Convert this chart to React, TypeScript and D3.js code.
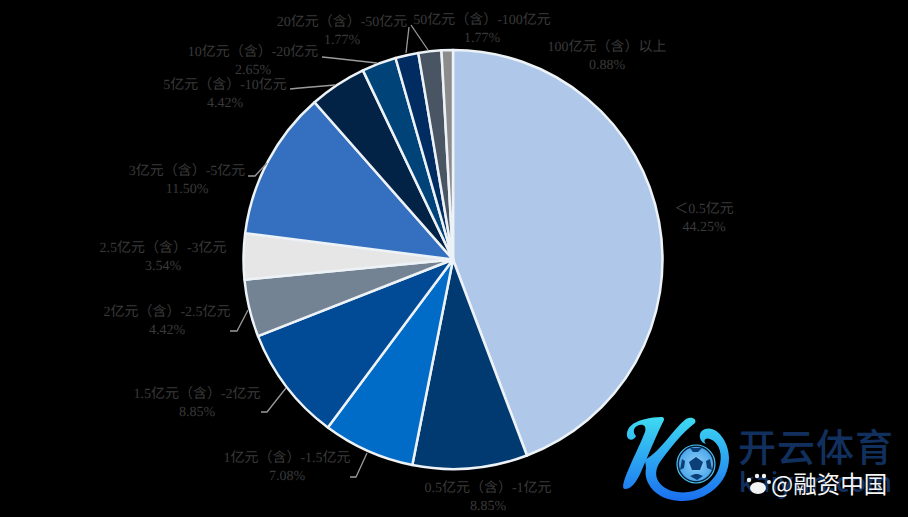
import React from "react";
import * as d3 from "d3";

const categories = ["＜0.5亿元","0.5亿元（含）-1亿元","1亿元（含）-1.5亿元","1.5亿元（含）-2亿元","2亿元（含）-2.5亿元","2.5亿元（含）-3亿元","3亿元（含）-5亿元","5亿元（含）-10亿元","10亿元（含）-20亿元","20亿元（含）-50亿元","50亿元（含）-100亿元","100亿元（含）以上"];
const shares = [44.25,8.85,7.08,8.85,4.42,3.54,11.5,4.42,2.65,1.77,1.77,0.88];
const colors = ["#AFC8EA","#003A70","#006CC8","#004A96","#748394","#E6E6E6","#3570C0","#022345","#004378","#002C62","#4A5563","#8C8C8C"];
const labelPos: [number,number][] = [[704,209],[488,488],[287,458],[197,394],[167,312],[163,248],[187,171],[225,85],[253,52],[342,22],[482,20],[607,47]];
const leaders: ([number,number][]|null)[] = [null,null,
 [[350,477],[356,477],[367,453]],
 [[261,412],[267,412],[286,388]],
 [[230,331],[237,331],[248,310]],
 null,
 [[248,176],[255,176],[267,163]],
 [[290,89],[300,88],[335,85]],
 [[322,57],[332,58],[377,63]],
 [[409,27],[406,53]],
 [[411,25],[428,50]],
 null];

const cx = 453, cy = 259.5, R = 209.5;

export default function App() {
  const pie = d3.pie<number>().sort(null).value(d => d);
  const arc = d3.arc<d3.PieArcDatum<number>>().innerRadius(0).outerRadius(R);
  const arcs = pie(shares);
  const line = d3.line();
  return (
    <svg width={908} height={517} viewBox="0 0 908 517" style={{position:"fixed",left:0,top:0,background:"#000",display:"block"}}>
      <defs>
        <linearGradient id="kg" gradientUnits="userSpaceOnUse" x1="660" y1="416" x2="660" y2="500">
          <stop offset="0" stopColor="#3fdcf2"/>
          <stop offset="1" stopColor="#1a70f0"/>
        </linearGradient>
        <radialGradient id="ball" cx="0.5" cy="0.5" r="0.6">
          <stop offset="0" stopColor="#8fd0f8"/>
          <stop offset="1" stopColor="#3f9fe8"/>
        </radialGradient>
      </defs>
      <rect width={908} height={517} fill="#000"/>
      <g transform={`translate(${cx},${cy})`}>
        {arcs.map((a,i)=>(
          <path key={i} d={arc(a)!} fill={colors[i]} stroke="#EDF2F7" strokeWidth={2.5} strokeLinejoin="round"/>
        ))}
      </g>
      {leaders.map((l,i)=> l && <path key={i} d={line(l)!} fill="none" stroke="#9a9a9a" strokeWidth={1.3}/>)}
      <g fontFamily="'Liberation Serif','Noto Sans CJK SC',serif" fontSize={14} fill="#3a3a3a" textAnchor="middle" style={{textRendering:"geometricPrecision"}}>
        {categories.map((c,i)=>(
          <text key={i} x={labelPos[i][0]} y={labelPos[i][1]} dominantBaseline="central">
            <tspan x={labelPos[i][0]}>{c}</tspan>
            <tspan x={labelPos[i][0]} dy={18}>{shares[i].toFixed(2)}%</tspan>
          </text>
        ))}
      </g>
      <g>
        <path d="M627 436C626 424 640 418 661 417C664 417 665 419 663 422C656 436 648 456 641 472C636 483 631 489 625 489C622 489 623 484 625 478C631 462 640 445 645 432C647 425 642 423 637 426C633 428 633 433 636 436C634 441 628 441 627 436Z" fill="url(#kg)"/>
        <path d="M645 460C662 450 672 430 686 419C692 416 697 419 695 423C682 433 670 448 660 462C652 474 657 486 672 491C690 496 712 488 719 468C723 455 720 443 710 439C705 437 703 441 706 444C699 442 697 432 705 429C717 425 729 442 729 458C729 484 705 502 680 501C655 500 643 482 646 468Z" fill="url(#kg)"/>
        <circle cx={696} cy={464} r={19} fill="#06223f" stroke="#4cc4f0" strokeWidth={1.2}/>
        <circle cx={696} cy={464} r={17} fill="url(#ball)"/>
        <path d="M696 457L703 462L700 470H692L689 462Z" fill="#0c3f78"/>
        <path d="M690 448L702 448L698 452H693Z M710 459L712 470L707 468L706 461Z M682 459L685 461L684 468L680 470Z M690 476L695 474H698L703 476L697 480Z" fill="#0c3f78"/>
        <text x={816} y={461} textAnchor="middle" fontFamily="'Noto Sans CJK SC',sans-serif" fontSize={38} fontWeight={500} fill="#12305e" letterSpacing={1}>开云体育</text>
        <text x={739} y={492} fontFamily="'Open Sans',sans-serif" fontSize={27} fontWeight={600} fill="#12305e" textLength={153} lengthAdjust="spacing">kaiyun.com</text>
        <g fill="#f2f2f2">
          <circle cx={749} cy={480} r={2.2}/><circle cx={757} cy={476} r={2.2}/><circle cx={764} cy={476} r={2.2}/><circle cx={769} cy={482} r={2}/>
          <ellipse cx={758} cy={488} rx={8} ry={6}/>
        </g>
        <text x={771} y={493} fontFamily="'Noto Sans CJK SC',sans-serif" fontSize={23.5} fill="#f5f5f5">@融资中国</text>
      </g>
    </svg>
  );
}
